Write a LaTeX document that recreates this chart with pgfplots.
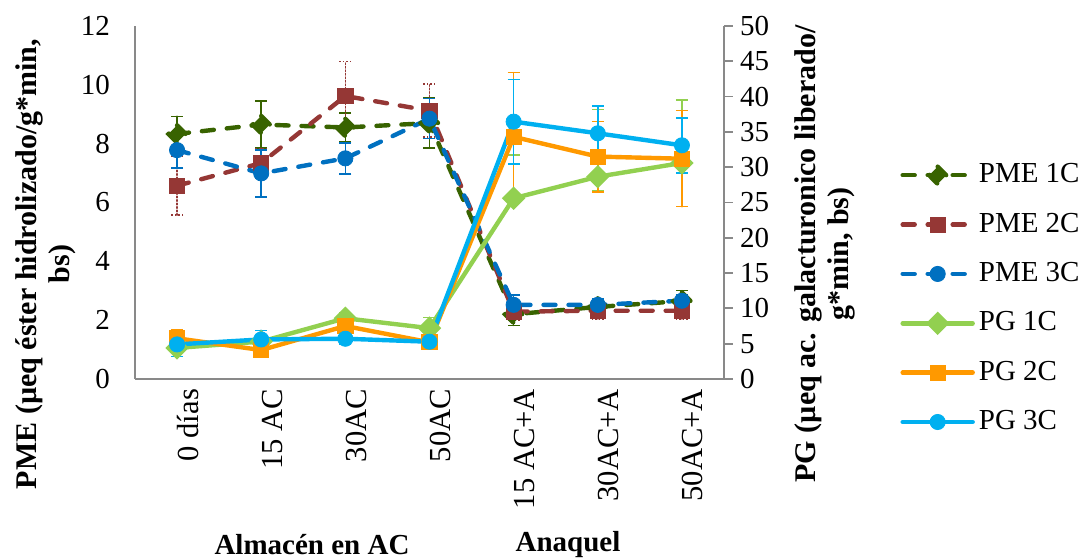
\documentclass[border=0pt]{standalone}
\usepackage{fontspec}
\setmainfont{Liberation Serif}
\usepackage{pgfplots}
\pgfplotsset{compat=1.18}
\definecolor{pmeA}{HTML}{386300}
\definecolor{pmeB}{HTML}{953735}
\definecolor{pmeC}{HTML}{0070C0}
\definecolor{pgA}{HTML}{92D050}
\definecolor{pgB}{HTML}{FF9900}
\definecolor{pgC}{HTML}{00B0F0}
\definecolor{axgray}{HTML}{898989}
\pgfplotsset{
  common/.style={
    at={(67.5pt,90.5pt)}, anchor=south west,
    scale only axis, width=294.5pt, height=176.5pt,
    xmin=-0.5, xmax=6.5, clip=false,
    axis line style={draw=axgray, line width=0.9pt, -},
    tick label style={font=\rmfamily\fontsize{14.5}{17}\selectfont},
    /pgf/number format/assume math mode=true,
    legend image code/.code={\draw[mark repeat=2,mark phase=2] plot coordinates {(0pt,0pt) (17.5pt,0pt) (35pt,0pt)};},
  },
  ser/.style={color=#1, line width=2.2pt, line cap=round,
    mark options={solid, fill=#1, draw=#1, line width=0.4pt},
    error bars/y dir=both, error bars/y explicit,
    error bars/error mark=-,
    error bars/error bar style={line width=0.75pt, solid, color=#1},
    error bars/error mark options={rotate=90, line width=0.75pt, mark size=3pt, color=#1, solid}},
  dsh/.style={dash pattern=on 6pt off 6.5pt},
  pmeAs/.style={ser=pmeA, dsh, mark=diamond*, mark size=4.3pt, mark options={xscale=1.33}},
  pmeBs/.style={ser=pmeB, dsh, mark=square*, mark size=3.8pt, error bars/error bar style={densely dotted, line width=0.75pt}, error bars/error mark options={rotate=90, line width=0.75pt, mark size=3pt, color=pmeB, densely dotted}},
  pmeCs/.style={ser=pmeC, dsh, mark=*, mark size=3.8pt},
  pgAs/.style={ser=pgA, mark=diamond*, mark size=4.3pt, mark options={xscale=1.33}},
  pgBs/.style={ser=pgB, mark=square*, mark size=3.8pt},
  pgCs/.style={ser=pgC, mark=*, mark size=3.8pt},
}
\begin{document}
\fontsize{14.5}{17}\selectfont
\begin{tikzpicture}
\useasboundingbox (0,0) rectangle (541pt,280pt);
\begin{axis}[common,
  ymin=0, ymax=12, ytick={0,2,...,12},
  axis x line*=bottom, axis y line*=left,
  xtick={0,...,6},
  xticklabels={0 días,15 AC,30AC,50AC,15 AC+A,30AC+A,50AC+A},
  xticklabel style={rotate=90, anchor=east, yshift=-5.5pt, font=\rmfamily\fontsize{15.3}{18}\selectfont},
  yticklabel style={xshift=-7.5pt},
  major tick length=0pt,
]
\addplot[pmeAs] coordinates {(0,8.33) +- (0,0.6) (1,8.65) +- (0,0.8) (2,8.55) +- (0,0.5) (3,8.7) +- (0,0.85) (4,2.2) +- (0,0.38) (5,2.45) +- (0,0.2) (6,2.65) +- (0,0.35)};
\addplot[pmeBs] coordinates {(0,6.57) +- (0,1.0) (1,7.34) +- (0,0.5) (2,9.62) +- (0,1.17) (3,9.12) +- (0,0.9) (4,2.29) +- (0,0.3) (5,2.32) +- (0,0.28) (6,2.32) +- (0,0.28)};
\addplot[pmeCs] coordinates {(0,7.78) +- (0,0.6) (1,6.99) +- (0,0.8) (2,7.5) +- (0,0.53) (3,8.85) +- (0,0.68) (4,2.52) +- (0,0.33) (5,2.52) +- (0,0.2) (6,2.66) +- (0,0.2)};
\end{axis}
\begin{axis}[common,
  ymin=0, ymax=50, ytick={0,5,...,50},
  axis x line=none, axis y line*=right,
  xtick=\empty,
  tick align=outside, major tick length=4.5pt,
  ytick style={draw=axgray, line width=0.9pt},
  yticklabel style={xshift=-1.5pt},
  legend style={at={(1.299,0.623)}, anchor=north west, draw=none, fill=none,
    inner sep=0pt, font=\rmfamily\fontsize{14.5}{17}\selectfont, row sep=8.9pt},
  legend cell align=left,
]
\addlegendimage{pmeAs}\addlegendentry{PME 1C}
\addlegendimage{pmeBs}\addlegendentry{PME 2C}
\addlegendimage{pmeCs}\addlegendentry{PME 3C}
\addplot[pgAs] coordinates {(0,4.4) +- (0,0.6) (1,5.3) +- (0,0.5) (2,8.6) +- (0,0.8) (3,7.2) +- (0,1.5) (4,25.6) += (0,6.1) -= (0,0) (5,28.65) += (0,9.5) -= (0,2) (6,30.6) += (0,8.9) -= (0,0)};
\addlegendentry{PG 1C}
\addplot[pgBs] coordinates {(0,5.76) +- (0,1.2) (1,4.1) +- (0,0.5) (2,7.5) +- (0,0.6) (3,5.2) +- (0,0.4) (4,34.3) +- (0,9.1) (5,31.5) +- (0,5) (6,31.2) +- (0,6.8)};
\addlegendentry{PG 2C}
\addplot[pgCs] coordinates {(0,4.9) +- (0,1.7) (1,5.6) +- (0,1.3) (2,5.7) +- (0,0.85) (3,5.28) +- (0,0.5) (4,36.45) +- (0,6) (5,34.8) +- (0,3.9) (6,33.1) +- (0,3.9)};
\addlegendentry{PG 3C}
\end{axis}
\node[rotate=90, align=center, font=\bfseries\fontsize{15}{16.5}\selectfont] at (23pt,148pt) {PME (µeq éster hidrolizado/g*min,\\bs)};
\node[rotate=90, align=center, font=\bfseries\fontsize{15}{16.5}\selectfont] at (412.5pt,153pt) {PG (µeq ac. galacturonico liberado/\\g*min, bs)};
\node[font=\bfseries\fontsize{14.5}{17}\selectfont] at (156pt,7.5pt) {Almacén en AC};
\node[font=\bfseries\fontsize{14.5}{17}\selectfont] at (284pt,7.5pt) {Anaquel};
\end{tikzpicture}
\end{document}
